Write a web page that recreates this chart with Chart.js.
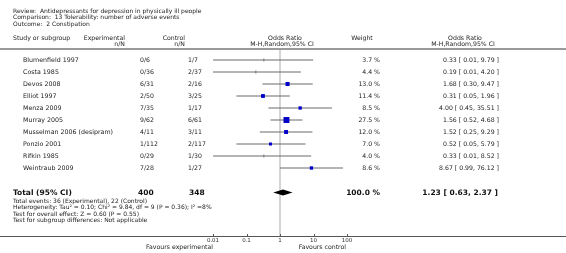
<!DOCTYPE html>
<html>
<head>
<meta charset="utf-8">
<script src="https://cdn.jsdelivr.net/npm/chart.js@4.4.1/dist/chart.umd.min.js"></script>
<style>
  html, body { margin: 0; padding: 0; background: #fff; }
  #wrap { width: 566px; height: 253px; position: relative; }
</style>
</head>
<body>
<div id="wrap"><canvas id="forest" width="566" height="253"></canvas></div>
<script>
// Données
const studies = ['Blumenfield 1997', 'Costa 1985', 'Devos 2008', 'Elliot 1997', 'Menza 2009',
  'Murray 2005', 'Musselman 2006 (desipram)', 'Ponzio 2001', 'Rifkin 1985', 'Weintraub 2009'];
const expNN = ['0/6', '0/36', '6/31', '2/50', '7/35', '9/62', '4/11', '1/112', '0/29', '7/28'];
const ctlNN = ['1/7', '2/37', '2/16', '3/25', '1/17', '6/61', '3/11', '2/117', '1/30', '1/27'];
const weights = [3.7, 4.4, 13.0, 11.4, 8.5, 27.5, 12.0, 7.0, 4.0, 8.6];
const oddsRatio = [0.33, 0.19, 1.68, 0.31, 4.00, 1.56, 1.52, 0.52, 0.33, 8.67];
const ciLow = [0.01, 0.01, 0.30, 0.05, 0.45, 0.52, 0.25, 0.05, 0.01, 0.99];
const ciHigh = [9.79, 4.20, 9.47, 1.96, 35.51, 4.68, 9.29, 5.79, 8.52, 76.12];
const zeroCell = [true, true, false, false, false, false, false, false, true, false];
const total = { exp: '400', ctl: '348', weight: '100.0 %', or: 1.23, lo: 0.63, hi: 2.37 };
const axisTicks = [0.01, 0.1, 1, 10, 100];

const header = [
  'Review:  Antidepressants for depression in physically ill people',
  'Comparison:  13 Tolerability: number of adverse events',
  'Outcome:  2 Constipation'
];
const footnotes = [
  'Total events: 36 (Experimental), 22 (Control)',
  'Heterogeneity: Tau\u00b2 = 0.10; Chi\u00b2 = 9.84, df = 9 (P = 0.36); I\u00b2 =8%',
  'Test for overall effect: Z = 0.60 (P = 0.55)',
  'Test for subgroup differences: Not applicable'
];

const FONT = '"DejaVu Sans", sans-serif';
const fmt = v => v.toFixed(2);
const ciText = i => fmt(oddsRatio[i]) + ' [ ' + fmt(ciLow[i]) + ', ' + fmt(ciHigh[i]) + ' ]';

// lignes des IC, une par étude
const ciSets = studies.map((s, i) => ({
  type: 'line',
  data: [{ x: ciLow[i], y: i + 1 }, { x: ciHigh[i], y: i + 1 }],
  borderColor: '#6a6a6a',
  borderWidth: 1,
  pointRadius: 0,
  order: 2
}));

const squares = {
  type: 'scatter',
  data: studies.map((s, i) => ({ x: oddsRatio[i], y: i + 1 })),
  pointStyle: zeroCell.map(z => z ? 'line' : 'rect'),
  pointRotation: zeroCell.map(z => z ? 90 : 0),
  pointRadius: weights.map((w, i) => zeroCell[i] ? 1.5 : 0.8 * Math.sqrt(w)),
  backgroundColor: '#0000c8',
  borderColor: zeroCell.map(z => z ? '#777' : '#0000c8'),
  borderWidth: zeroCell.map(z => z ? 1 : 0),
  order: 1
};

const tablePlugin = {
  id: 'table',
  beforeDatasetsDraw(chart) {
    const { ctx, chartArea, scales: { x } } = chart;
    ctx.save();
    // ligne verticale à 1
    ctx.strokeStyle = '#d4d4d4';
    ctx.lineWidth = 2;
    ctx.beginPath();
    ctx.moveTo(x.getPixelForValue(1), chartArea.top);
    ctx.lineTo(x.getPixelForValue(1), chartArea.bottom);
    ctx.stroke();
    ctx.restore();
  },
  afterDraw(chart) {
    const { ctx, chartArea, scales: { x, y } } = chart;
    ctx.save();
    const text = (t, px, py, align, size, bold, color) => {
      ctx.font = (bold ? 'bold ' : '') + size + 'px ' + FONT;
      ctx.textAlign = align;
      ctx.textBaseline = 'middle';
      ctx.fillStyle = color || '#222';
      ctx.fillText(t, px, py);
    };

    header.forEach((t, i) => text(t, 13, 11.5 + i * 6.3, 'left', 6));

    text('Study or subgroup', 13, 38, 'left', 6.2);
    text('Experimental', 125, 38, 'right', 6.2);
    text('n/N', 125, 44, 'right', 6.2);
    text('Control', 185, 38, 'right', 6.2);
    text('n/N', 185, 44, 'right', 6.2);
    text('Odds Ratio', 285, 38, 'center', 6.2);
    text('M-H,Random,95% CI', 282, 44, 'center', 6.2);
    text('Weight', 362, 38, 'center', 6.2);
    text('Odds Ratio', 465, 38, 'center', 6.2);
    text('M-H,Random,95% CI', 463, 44, 'center', 6.2);

    ctx.strokeStyle = '#9a9a9a';
    ctx.lineWidth = 2;
    ctx.beginPath();
    ctx.moveTo(0, 49);
    ctx.lineTo(566, 49);
    ctx.stroke();

    studies.forEach((s, i) => {
      const py = y.getPixelForValue(i + 1);
      text(s, 23, py, 'left', 6.3);
      text(expNN[i], 140, py, 'left', 6.2);
      text(ctlNN[i], 188, py, 'left', 6.2);
      text(weights[i].toFixed(1) + ' %', 380, py, 'right', 6.2);
      text(ciText(i), 499, py, 'right', 6.2);
    });

    // total
    const ty = y.getPixelForValue(12) + 1;
    text('Total (95% CI)', 13, ty, 'left', 7.5, true, '#111');
    text(total.exp, 138, ty, 'left', 7.5, true, '#111');
    text(total.ctl, 189, ty, 'left', 7.5, true, '#111');
    text(total.weight, 380, ty, 'right', 7.5, true, '#111');
    text(fmt(total.or) + ' [ ' + fmt(total.lo) + ', ' + fmt(total.hi) + ' ]', 498, ty, 'right', 7.5, true, '#111');

    // losange
    const dy = y.getPixelForValue(12) + 0.5;
    ctx.fillStyle = '#000';
    ctx.beginPath();
    ctx.moveTo(x.getPixelForValue(total.lo), dy);
    ctx.lineTo(x.getPixelForValue(total.or), dy - 3);
    ctx.lineTo(x.getPixelForValue(total.hi), dy);
    ctx.lineTo(x.getPixelForValue(total.or), dy + 3);
    ctx.closePath();
    ctx.fill();

    footnotes.forEach((t, i) => text(t, 13, 201.3 + i * 6.4, 'left', 6));

    // axe du bas
    const ab = chartArea.bottom + 0.5;
    ctx.strokeStyle = '#555';
    ctx.lineWidth = 1;
    ctx.beginPath();
    ctx.moveTo(0, ab);
    ctx.lineTo(566, ab);
    axisTicks.forEach(v => {
      const px = Math.round(x.getPixelForValue(v)) + 0.5;
      ctx.moveTo(px, ab);
      ctx.lineTo(px, ab - 2.5);
    });
    ctx.stroke();

    text('Favours experimental', 213, 247.5, 'right', 6.2);
    text('Favours control', 346, 247.5, 'right', 6.2);
    ctx.restore();
  }
};

new Chart(document.getElementById('forest'), {
  type: 'scatter',
  data: { datasets: [squares, ...ciSets] },
  plugins: [tablePlugin],
  options: {
    responsive: false,
    animation: false,
    devicePixelRatio: 1,
    layout: { padding: { left: 213, right: 219, top: 50, bottom: 0 } },
    plugins: { legend: { display: false }, tooltip: { enabled: false } },
    scales: {
      x: {
        type: 'logarithmic',
        min: 0.01,
        max: 100,
        afterBuildTicks: s => { s.ticks = axisTicks.map(v => ({ value: v })); },
        afterFit: s => { s.height = 17; },
        grid: { display: false, drawTicks: false },
        border: { display: false },
        ticks: {
          padding: 1,
          color: '#333',
          font: { family: FONT, size: 5.5 },
          callback: v => String(v),
          maxRotation: 0,
          autoSkip: false
        }
      },
      y: {
        display: false,
        reverse: true,
        min: 1 / 6,
        max: 15 + 2 / 3
      }
    }
  }
});
</script>
</body>
</html>
